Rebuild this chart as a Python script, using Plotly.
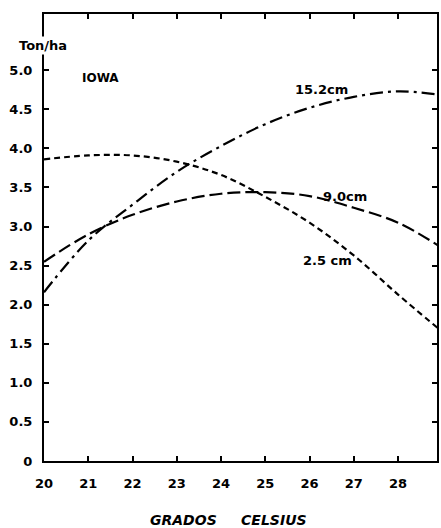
import plotly.graph_objects as go

temps = [20, 21, 22, 23, 24, 25, 26, 27, 28, 28.9]
yield_2_5 = [3.86, 3.91, 3.91, 3.83, 3.66, 3.38, 3.05, 2.63, 2.13, 1.70]
yield_9_0 = [2.55, 2.90, 3.15, 3.32, 3.42, 3.44, 3.39, 3.24, 3.05, 2.76]
yield_15_2 = [2.16, 2.82, 3.28, 3.70, 4.03, 4.31, 4.52, 4.66, 4.73, 4.69]

x_ticks = [20, 21, 22, 23, 24, 25, 26, 27, 28]
y_ticks = [0, 0.5, 1.0, 1.5, 2.0, 2.5, 3.0, 3.5, 4.0, 4.5, 5.0]
y_ticktext = ["0", "0.5", "1.0", "1.5", "2.0", "2.5", "3.0", "3.5", "4.0", "4.5", "5.0"]

FONT = "DejaVu Sans"
fig = go.Figure()
fig.add_trace(go.Scatter(x=temps, y=yield_2_5, mode="lines", line=dict(color="black", width=2.2, dash="6px,4px", shape="spline"), name="2.5 cm"))
fig.add_trace(go.Scatter(x=temps, y=yield_9_0, mode="lines", line=dict(color="black", width=2.2, dash="13px,5px", shape="spline"), name="9.0cm"))
fig.add_trace(go.Scatter(x=temps, y=yield_15_2, mode="lines", line=dict(color="black", width=2.2, dash="13px,5px,3px,5px", shape="spline"), name="15.2cm"))

annots = [
    dict(x=26.28, y=4.76, text="15.2cm", xref="x", yref="y", size=13, bg=None),
    dict(x=26.79, y=3.38, text="9.0cm", xref="x", yref="y", size=13, bg=None),
    dict(x=26.41, y=2.57, text="2.5 cm", xref="x", yref="y", size=13, bg=None),
    dict(x=21.28, y=4.90, text="IOWA", xref="x", yref="y", size=12, bg=None),
    dict(x=-0.003, y=0.93, text="Ton/ha", xref="paper", yref="paper", size=13, bg="white"),
    dict(x=0.47, y=-0.132, text="<i>GRADOS&nbsp;&nbsp;&nbsp;&nbsp;&nbsp;CELSIUS</i>", xref="paper", yref="paper", size=14, bg=None),
]
for a in annots:
    kw = {}
    if a["bg"]:
        kw["bgcolor"] = a["bg"]
    fig.add_annotation(x=a["x"], y=a["y"], text="<b>" + a["text"] + "</b>", xref=a["xref"], yref=a["yref"],
                       xanchor="center", yanchor="middle", showarrow=False,
                       font=dict(family=FONT, size=a["size"], color="black"), **kw)

fig.update_layout(
    width=441, height=528,
    margin=dict(l=44, r=2, t=14, b=67),
    plot_bgcolor="white", paper_bgcolor="white",
    showlegend=False,
    xaxis=dict(range=[20, 28.88], tickvals=x_ticks, ticks="inside", ticklen=5, tickwidth=2, tickcolor="black",
               showline=True, linecolor="black", linewidth=2, mirror="ticks", showgrid=False, zeroline=False,
               ticklabelstandoff=9,
               tickfont=dict(family=FONT, size=13, color="black", weight="bold")),
    yaxis=dict(range=[0, 5.72], tickvals=y_ticks, ticktext=y_ticktext, ticks="inside", ticklen=5, tickwidth=2, tickcolor="black",
               showline=True, linecolor="black", linewidth=2, mirror="ticks", showgrid=False, zeroline=False,
               ticklabelstandoff=7,
               tickfont=dict(family=FONT, size=13, color="black", weight="bold")),
)
fig.write_html("out.html", config={"displayModeBar": False},
               post_script="document.body.style.margin='0';document.body.style.overflow='hidden';")
